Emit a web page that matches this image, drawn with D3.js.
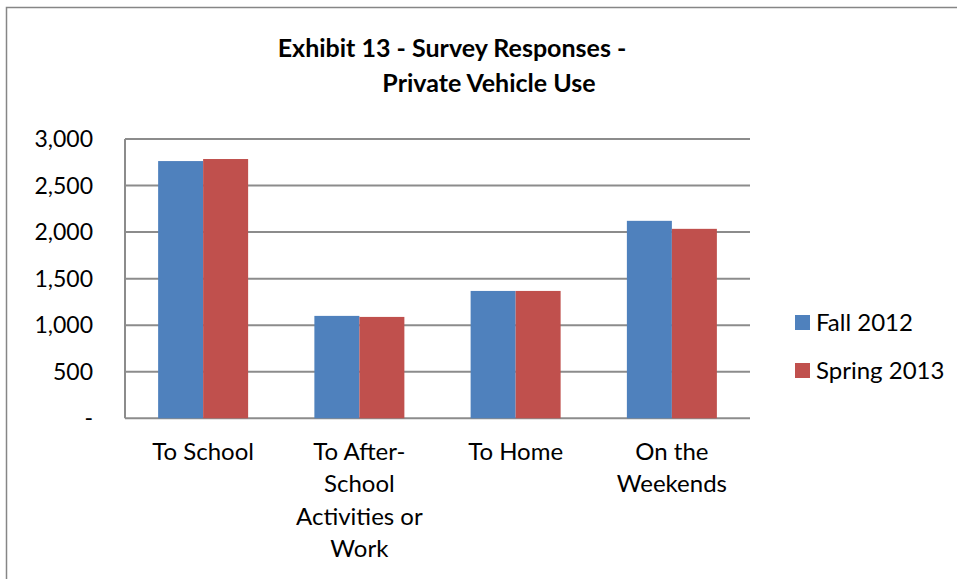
<!DOCTYPE html>
<html><head><meta charset="utf-8">
<script src="https://cdn.jsdelivr.net/npm/d3@7"></script>
<style>body{margin:0;background:#fff}svg{display:block}text{font-family:Lato,"Open Sans",sans-serif;fill:#000}</style>
</head><body><svg id="c" width="957" height="579"></svg>
<script>
const categories = [["To School"],["To After-","School","Activities or","Work"],["To Home"],["On the","Weekends"]];
const seriesNames = ["Fall 2012","Spring 2013"];
const fall2012 = [2763, 1100, 1368, 2121];
const spring2013 = [2785, 1089, 1368, 2035];
const yTicks = [0,500,1000,1500,2000,2500,3000];
const titleLines = ["Exhibit 13 - Survey Responses -","Private Vehicle Use"];
const colors = ["#4F81BD","#C0504D"];

const svg = d3.select("#c");
svg.append("rect").attr("x",6.5).attr("y",7.5).attr("width",1000).attr("height",620)
  .attr("fill","#fff").attr("stroke","#868686").attr("stroke-width",1.5);

const L=125,R=750,T=139,B=418.3;
const y = d3.scaleLinear().domain([0,3000]).range([B,T]);
const x = d3.scaleBand().domain(d3.range(categories.length)).range([L,R]);
const bw = x.bandwidth()*0.288;

svg.append("g").selectAll("line").data(yTicks).join("line")
  .attr("x1",L).attr("x2",R).attr("y1",d=>y(d)).attr("y2",d=>y(d))
  .attr("stroke","#8c8c8c").attr("stroke-width",2);
svg.append("line").attr("x1",L).attr("x2",L).attr("y1",T).attr("y2",B)
  .attr("stroke","#8c8c8c").attr("stroke-width",2);

const fmt = d3.format(",");
svg.append("g").selectAll("text").data(yTicks).join("text")
  .attr("x",93).attr("y",d=>y(d)+8).attr("text-anchor","end")
  .style("font-size","23px").text(d=>d===0?"-":fmt(d));

[fall2012,spring2013].forEach((vals,si)=>{
  svg.append("g").selectAll("rect").data(vals).join("rect")
    .attr("x",(d,i)=>x(i)+x.bandwidth()/2-bw+si*bw)
    .attr("width",bw)
    .attr("y",d=>y(d)).attr("height",d=>B-y(d))
    .attr("fill",colors[si]);
});

categories.forEach((lines,i)=>{
  const t = svg.append("text").attr("text-anchor","middle").style("font-size","24px");
  lines.forEach((ln,j)=>{
    t.append("tspan").attr("x",x(i)+x.bandwidth()/2).attr("y",459.5+j*32.5).text(ln);
  });
});

const titleCenters = [452, 489];
titleLines.forEach((ln,j)=>{
  svg.append("text").attr("x",titleCenters[j]).attr("y",56.5+j*35.5)
    .attr("text-anchor","middle")
    .style("font-size","25px").style("font-weight","bold").text(ln);
});

seriesNames.forEach((n,i)=>{
  const yy = 315+i*48;
  svg.append("rect").attr("x",795).attr("y",yy).attr("width",15).attr("height",15).attr("fill",colors[i]);
  svg.append("text").attr("x",816).attr("y",yy+15.5).style("font-size","24px").text(n);
});
</script></body></html>
